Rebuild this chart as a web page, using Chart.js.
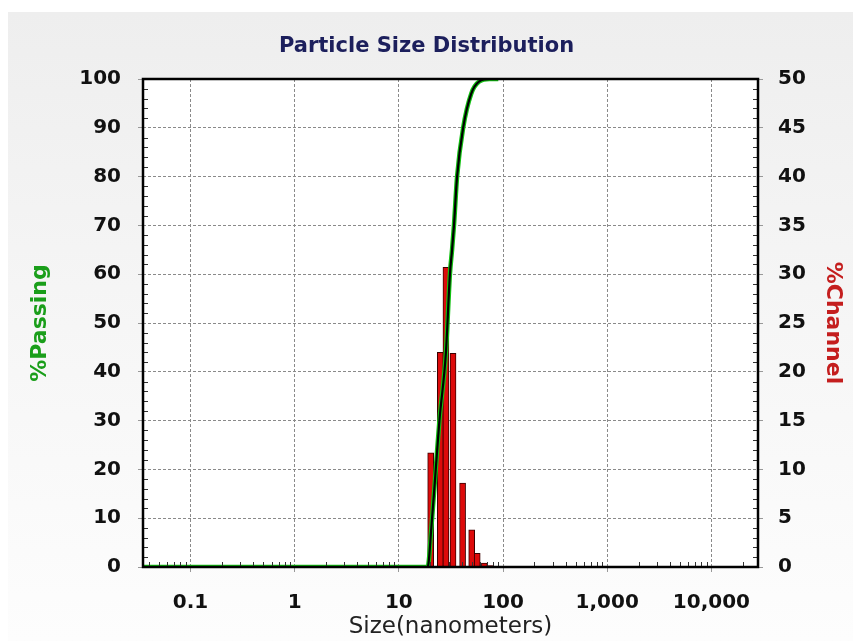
<!DOCTYPE html>
<html>
<head>
<meta charset="utf-8">
<script src="https://cdn.jsdelivr.net/npm/chart.js@4.4.1/dist/chart.umd.min.js"></script>
<style>
  html, body { margin: 0; padding: 0; background: #ffffff; }
  #wrap { width: 853px; height: 641px; position: relative; }
  canvas { display: block; }
</style>
</head>
<body>
<div id="wrap"><canvas id="c" width="853" height="641"></canvas></div>
<script>
// ---- data ----
const channelSizes = [20.2, 25.0, 28.3, 33.1, 40.9, 50.0, 56.5, 66.2, 75.0];   // nm
const channelPct   = [11.7, 22.0, 30.7, 21.9, 8.6, 3.8, 1.4, 0.4, 0.15];      // %Channel
const passingSizes = [0.035, 18.9, 20.5, 22.6, 24.5, 28.3, 30.9, 32.4, 33.8, 36.2, 41.4, 49.5, 59.2, 74.0, 90.0];
const passingPct   = [0, 0, 8, 20, 30, 44, 60, 65, 70, 80, 90, 97, 99.5, 100, 100];
const xTickValues  = [0.1, 1, 10, 100, 1000, 10000];
const xTickLabels  = ['0.1', '1', '10', '100', '1,000', '10,000'];
const yLeftTicks   = [0, 10, 20, 30, 40, 50, 60, 70, 80, 90, 100];
const yRightTicks  = [0, 5, 10, 15, 20, 25, 30, 35, 40, 45, 50];

const barPoints = channelSizes.map((s, i) => ({ x: s, y: channelPct[i] }));
const passPoints = passingSizes.map((s, i) => ({ x: s, y: passingPct[i] }));

const bgPlugin = {
  id: 'bg',
  beforeDraw(chart) {
    const ctx = chart.ctx;
    ctx.save();
    ctx.fillStyle = '#ffffff';
    ctx.fillRect(0, 0, chart.width, chart.height);
    const g = ctx.createLinearGradient(0, 12, 0, chart.height);
    g.addColorStop(0, '#eeeeee');
    g.addColorStop(0.5, '#f6f6f6');
    g.addColorStop(1, '#fdfdfd');
    ctx.fillStyle = g;
    ctx.fillRect(8, 12, chart.width - 8, chart.height - 12);
    const a = chart.chartArea;
    ctx.fillStyle = '#ffffff';
    ctx.fillRect(a.left, a.top, a.right - a.left, a.bottom - a.top);
    ctx.restore();
  },
  afterDraw(chart) {
    const ctx = chart.ctx;
    const a = chart.chartArea;
    ctx.save();
    ctx.strokeStyle = '#333';
    ctx.lineWidth = 1;
    const xs = chart.scales.x;
    for (let e = -2; e <= 4; e++) {
      for (let m = 2; m <= 9; m++) {
        const v = m * Math.pow(10, e);
        if (v < xs.min || v > xs.max) continue;
        const px = Math.round(xs.getPixelForValue(v)) + 0.5;
        ctx.beginPath(); ctx.moveTo(px, a.bottom); ctx.lineTo(px, a.bottom - 5); ctx.stroke();
      }
    }
    const yl = chart.scales.y;
    for (let v = 2; v < 100; v += 2) {
      if (v % 10 === 0) continue;
      const py = Math.round(yl.getPixelForValue(v)) + 0.5;
      ctx.beginPath(); ctx.moveTo(a.left, py); ctx.lineTo(a.left + 5, py); ctx.stroke();
    }
    const yr = chart.scales.y1;
    for (let v = 1; v < 50; v += 1) {
      if (v % 5 === 0) continue;
      const py = Math.round(yr.getPixelForValue(v)) + 0.5;
      ctx.beginPath(); ctx.moveTo(a.right, py); ctx.lineTo(a.right - 5, py); ctx.stroke();
    }
    ctx.strokeStyle = '#000000';
    ctx.lineWidth = 2.5;
    ctx.strokeRect(a.left, a.top, a.right - a.left, a.bottom - a.top);
    ctx.restore();
  }
};

const tickFont = { family: 'DejaVu Sans', size: 20, weight: 'bold' };

new Chart(document.getElementById('c'), {
  type: 'bar',
  data: {
    datasets: [
      {
        type: 'line',
        label: '%Passing (core)',
        data: passPoints,
        yAxisID: 'y',
        borderColor: '#000000',
        borderWidth: 2.2,
        pointRadius: 0,
        cubicInterpolationMode: 'monotone',
        fill: false,
        order: 1
      },
      {
        type: 'line',
        label: '%Passing',
        data: passPoints,
        yAxisID: 'y',
        borderColor: '#11c011',
        borderWidth: 4.5,
        pointRadius: 0,
        cubicInterpolationMode: 'monotone',
        fill: false,
        order: 2
      },
      {
        type: 'bar',
        label: '%Channel',
        data: barPoints,
        yAxisID: 'y1',
        backgroundColor: '#dd0a0a',
        borderColor: '#3a0000',
        borderWidth: 1,
        barThickness: 6,
        order: 3
      }
    ]
  },
  options: {
    responsive: false,
    animation: false,
    devicePixelRatio: 1,
    layout: { padding: 0 },
    plugins: {
      legend: { display: false },
      tooltip: { enabled: false },
      title: {
        display: true,
        text: 'Particle Size Distribution',
        color: '#1c1f5c',
        font: { family: 'DejaVu Sans', size: 21, weight: 'bold', lineHeight: 1.2 },
        padding: { top: 34, bottom: 19.8 }
      }
    },
    scales: {
      x: {
        type: 'logarithmic',
        position: 'bottom',
        min: 0.035,
        max: 28000,
        offset: false,
        afterBuildTicks(scale) { scale.ticks = xTickValues.map(v => ({ value: v })); },
        afterFit(scale) { scale.height = 74; },
        ticks: {
          autoSkip: false,
          maxRotation: 0,
          color: '#111',
          font: tickFont,
          padding: 19,
          callback(value) {
            const i = xTickValues.indexOf(value);
            return i >= 0 ? xTickLabels[i] : '';
          }
        },
        grid: {
          offset: false,
          color: '#8a8a8a',
          tickColor: '#999',
          tickLength: 5,
          lineWidth: 1
        },
        border: { display: false, dash: [3, 2] },
        title: {
          display: true,
          text: 'Size(nanometers)',
          color: '#222',
          font: { family: 'DejaVu Sans', size: 23 },
          padding: { top: 0, bottom: 0 }
        }
      },
      y: {
        type: 'linear',
        position: 'left',
        min: 0,
        max: 100,
        afterBuildTicks(scale) { scale.ticks = yLeftTicks.map(v => ({ value: v })); },
        afterFit(scale) { scale.width = 143; },
        ticks: { color: '#111', font: tickFont, padding: 17 },
        grid: { color: '#8a8a8a', tickColor: '#999', tickLength: 5, lineWidth: 1 },
        border: { display: false, dash: [3, 2] },
        title: {
          display: true,
          text: '%Passing',
          color: '#1a9e1a',
          font: { family: 'DejaVu Sans', size: 22, weight: 'bold' },
          padding: { top: 27, bottom: 0 }
        }
      },
      y1: {
        type: 'linear',
        position: 'right',
        min: 0,
        max: 50,
        afterBuildTicks(scale) { scale.ticks = yRightTicks.map(v => ({ value: v })); },
        afterFit(scale) { scale.width = 95; },
        ticks: { color: '#111', font: tickFont, padding: 15 },
        grid: { drawOnChartArea: false, tickColor: '#999', tickLength: 5 },
        border: { display: false },
        title: {
          display: true,
          text: '%Channel',
          color: '#c41e1e',
          font: { family: 'DejaVu Sans', size: 22, weight: 'bold' },
          padding: { top: 7, bottom: 0 }
        }
      }
    }
  },
  plugins: [bgPlugin]
});
</script>
</body>
</html>
